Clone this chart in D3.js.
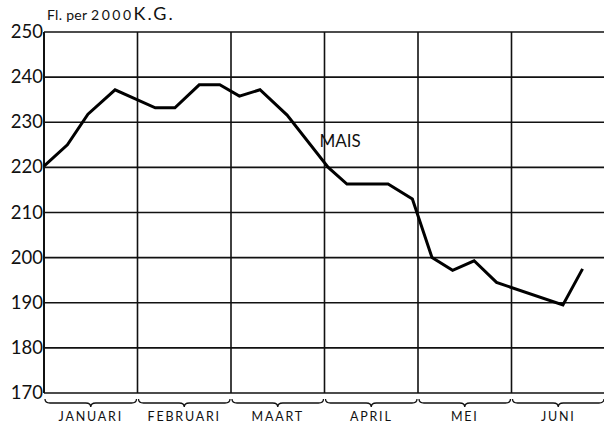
<!DOCTYPE html>
<html>
<head>
<meta charset="utf-8">
<script src="https://cdn.jsdelivr.net/npm/d3@7"></script>
<style>
  html, body { margin: 0; padding: 0; background: #fff; }
  svg { display: block; }
  text { font-family: Lato, "DejaVu Sans", sans-serif; fill: #111; }
</style>
</head>
<body>
<div id="chart"></div>
<script>
// months along the bottom, one column each
const months = ['JANUARI', 'FEBRUARI', 'MAART', 'APRIL', 'MEI', 'JUNI'];
// y gridlines / tick labels
const yTicks = [170, 180, 190, 200, 210, 220, 230, 240, 250];
// price of maize, position in months from 1 Jan
const pos = [0, 0.25, 0.47, 0.76, 1.19, 1.40, 1.66, 1.88, 2.09, 2.31, 2.60, 3.04, 3.24, 3.68, 3.94, 4.15, 4.37, 4.60, 4.84, 5.55, 5.76];
const price = [220.3, 225, 231.8, 237.2, 233.2, 233.2, 238.3, 238.3, 235.8, 237.2, 231.6, 220, 216.3, 216.3, 213, 200, 197.2, 199.3, 194.5, 189.5, 197.5];

const W = 604, H = 425;
const margin = { top: 32, left: 44, bottom: 32 };
const monthW = 93.5;

const x = d3.scaleLinear().domain([0, months.length]).range([margin.left, margin.left + months.length * monthW]);
const y = d3.scaleLinear().domain([170, 250]).range([H - margin.bottom, margin.top]);

const svg = d3.select('#chart').append('svg')
    .attr('width', W)
    .attr('height', H);

// horizontal grid
svg.append('g')
    .selectAll('line')
    .data(yTicks)
    .join('line')
    .attr('x1', x(0)).attr('x2', x(months.length))
    .attr('y1', d => y(d)).attr('y2', d => y(d))
    .attr('stroke', '#111')
    .attr('stroke-width', 1.6);

// vertical month lines
svg.append('g')
    .selectAll('line')
    .data(d3.range(months.length + 1))
    .join('line')
    .attr('x1', d => x(d)).attr('x2', d => x(d))
    .attr('y1', y(250)).attr('y2', y(170))
    .attr('stroke', '#111')
    .attr('stroke-width', d => d === 0 ? 2 : 1.6);

// y labels
svg.append('g')
    .selectAll('text')
    .data(yTicks)
    .join('text')
    .attr('x', x(0) - 1)
    .attr('y', d => y(d) + 6)
    .attr('text-anchor', 'end')
    .attr('font-size', '18.5px')
    .text(d => d);

// unit title
const title = svg.append('text').attr('x', x(0) + 3).attr('y', 20);
title.append('tspan').attr('font-size', '14px').attr('letter-spacing', '0.3px').text('Fl. per ');
title.append('tspan').attr('font-size', '14px').attr('letter-spacing', '2.5px').text('2000');
title.append('tspan').attr('font-size', '18px').attr('letter-spacing', '2px').text('K.G.');

// braces under each month
const by = y(170) + 10;
const braces = svg.append('g');
d3.range(months.length).forEach(i => {
    const x0 = x(i) + 1, x1 = x(i + 1) - 1, m = (x0 + x1) / 2;
    const p = d3.path();
    p.moveTo(x0, by - 4);
    p.quadraticCurveTo(x0, by, x0 + 5, by);
    p.lineTo(m - 5, by);
    p.quadraticCurveTo(m, by, m, by + 4);
    p.quadraticCurveTo(m, by, m + 5, by);
    p.lineTo(x1 - 5, by);
    p.quadraticCurveTo(x1, by, x1, by - 4);
    braces.append('path')
        .attr('d', p.toString())
        .attr('fill', 'none')
        .attr('stroke', '#111')
        .attr('stroke-width', 1.3);
});

// month labels
svg.append('g')
    .selectAll('text')
    .data(months)
    .join('text')
    .attr('x', (d, i) => x(i + 0.5))
    .attr('y', H - 4)
    .attr('text-anchor', 'middle')
    .attr('font-size', '12.5px')
    .attr('letter-spacing', '1.8px')
    .text(d => d);

// the price line
const line = d3.line()
    .x((d, i) => x(pos[i]))
    .y(d => y(d));

svg.append('path')
    .datum(price)
    .attr('d', line)
    .attr('fill', 'none')
    .attr('stroke', '#000')
    .attr('stroke-width', 3)
    .attr('stroke-linejoin', 'miter');

svg.append('text')
    .attr('x', x(3) - 5)
    .attr('y', y(224.5))
    .attr('font-size', '17px')
    .text('MAIS');
</script>
</body>
</html>
